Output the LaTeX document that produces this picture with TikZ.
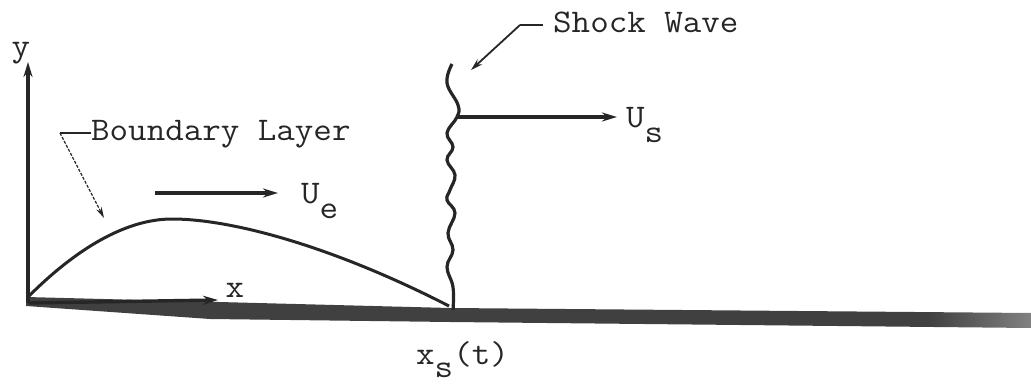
\documentclass[tikz,border=0pt]{standalone}
\usepackage{fontspec}
\usetikzlibrary{arrows.meta}
\definecolor{ink}{HTML}{262626}
\newcommand\stx[1]{\scalebox{1.09}[1]{#1}}
\tikzset{
  lbl/.style={font=\fontsize{33}{36}\selectfont\ttfamily, text=ink, inner sep=0pt},
  line/.style={draw=ink, line width=3pt},
  arr/.style={draw=ink, line width=3.4pt, -{Stealth[length=15pt,width=9pt]}},
  lead/.style={draw=ink, line width=1.2pt, dash pattern=on 3pt off 1.5pt, -{Stealth[length=11pt,width=6pt]}},
  leadsolid/.style={draw=ink, line width=1.8pt},
}
\begin{document}
\begin{tikzpicture}[x=1pt,y=-1pt]
\useasboundingbox (0,0) rectangle (1031,385);
% plate
\begin{scope}
\clip (26,297) -- (450,308) -- (1031,313) -- (1031,328) -- (450,322) -- (210,319) -- (26,306) -- cycle;
\fill[ink!88] (0,280) rectangle (930,340);
\shade[left color=ink!88, right color=ink!58] (929,280) rectangle (1031,340);
\end{scope}
% axes
\coordinate (o) at (28,303);
\coordinate (ytip) at (28,62);
\coordinate (xtip) at (218,300);
\draw[arr, line width=4pt] (o) -- (ytip);
\draw[arr] (o) -- (xtip);
\node[lbl, anchor=base] (ylab) at (21,57) {\stx{y}};
\node[lbl, anchor=base] (xlab) at (235,297) {\stx{x}};
% boundary layer
\coordinate (bl0) at (29,296);
\coordinate (blpk) at (172,219);
\coordinate (blend) at (449,306);
\draw[line] (bl0) .. controls (75,250) and (125,219) .. (blpk) .. controls (230,219) and (330,245) .. (blend);
% Ue arrow
\coordinate (ue0) at (155,193);
\coordinate (ue1) at (278,193);
\draw[arr] (ue0) -- (ue1);
\node[lbl, anchor=base west] (ue) at (301,203) {\stx{U\raisebox{-15pt}{e}}};
% shock wave
\draw[line, line width=3.2pt] plot[smooth, tension=0.7] coordinates {(452,64) (447,83) (458,105) (457,117) (447,133) (453,147) (447,160) (455,175) (450,190) (447,200) (455,213) (448,233) (453,250) (447,267) (453,287) (453,310)};
\coordinate (sj) at (457,117);
\coordinate (us1) at (617,117);
\draw[arr] (sj) -- (us1);
\node[lbl, anchor=base west] (us) at (626,128) {\stx{U\raisebox{-15pt}{s}}};
% labels with leaders
\node[lbl, anchor=base west] (bltxt) at (91,141) {\stx{Boundary Layer}};
\coordinate (blk) at (60,133);
\coordinate (bltip) at (104,218);
\draw[leadsolid] (bltxt.west |- blk) -- (blk);
\draw[lead] (blk) -- (bltip);
\node[lbl, anchor=base west] (swtxt) at (553,33) {\stx{Shock Wave}};
\coordinate (swk) at (520,25);
\coordinate (swtip) at (471,70);
\draw[leadsolid] (swtxt.west |- swk) ++(-10,0) -- (swk);
\draw[leadsolid, -{Stealth[length=12pt,width=7pt]}] (swk) -- (swtip);
\node[lbl, anchor=base west] (xs) at (416,364) {\stx{x\raisebox{-13pt}{s}(t)}};
\end{tikzpicture}
\end{document}
